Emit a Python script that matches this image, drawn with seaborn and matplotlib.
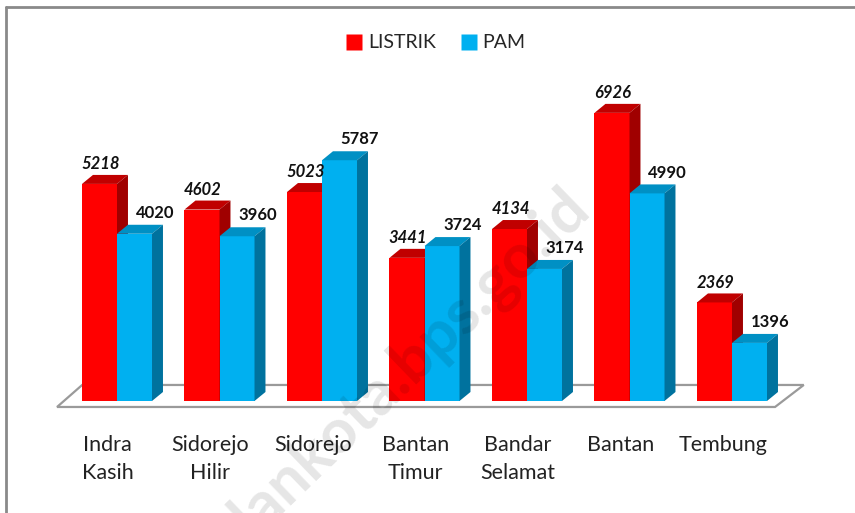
import numpy as np
import pandas as pd
import matplotlib
matplotlib.use("Agg")
import matplotlib.pyplot as plt
import seaborn as sns
from matplotlib.patches import Polygon
from matplotlib.lines import Line2D

# ==========================================
# DATA
# ==========================================
kelurahan = ["Indra\nKasih", "Sidorejo\nHilir", "Sidorejo", "Bantan\nTimur",
             "Bandar\nSelamat", "Bantan", "Tembung"]
listrik = [5218, 4602, 5023, 3441, 4134, 6926, 2369]
pam = [4020, 3960, 5787, 3724, 3174, 4990, 1396]
series = ["LISTRIK", "PAM"]

front_col = {"LISTRIK": "#FF0000", "PAM": "#00B0F0"}
top_col = {"LISTRIK": "#C00000", "PAM": "#0090C4"}
side_col = {"LISTRIK": "#A00000", "PAM": "#00729E"}

df = pd.DataFrame({
    "kelurahan": kelurahan * 2,
    "jenis": ["LISTRIK"] * len(kelurahan) + ["PAM"] * len(kelurahan),
    "jumlah": listrik + pam,
})

# ==========================================
# FIGURE
# ==========================================
sns.set_style("white")
plt.rcParams["font.family"] = ["Lato", "DejaVu Sans"]

fig = plt.figure(figsize=(8.55, 5.13), dpi=100)
ax = fig.add_axes([0, 93 / 513, 1, 420 / 513])

sns.barplot(data=df, x="kelurahan", y="jumlah", hue="jenis",
            order=kelurahan, hue_order=series, palette=front_col,
            width=0.683, saturation=1, errorbar=None, legend=False,
            ax=ax, zorder=2, linewidth=0)

ax.set_xlim(-1.1415, 7.2)
ax.set_ylim(-457, 9639)

# depth of the fake 3d boxes (in data units)
dx, dy = 0.107, 216

# floor
floor = Polygon([(-0.585, -144), (6.42, -144), (6.70, 385), (-0.34, 385)],
                closed=True, facecolor="white", edgecolor="#9A9A9A",
                linewidth=1.6, zorder=1)
ax.add_patch(floor)

n = len(kelurahan)
for k, bar in enumerate(ax.patches[:2 * n]):
    s = series[k // n]
    z = 2 + k // n
    bar.set_zorder(z)
    x0 = bar.get_x()
    x1 = x0 + bar.get_width()
    h = bar.get_height()
    top = Polygon([(x0, h), (x1, h), (x1 + dx, h + dy), (x0 + dx, h + dy)],
                  facecolor=top_col[s], edgecolor="none", zorder=z + 0.1)
    side = Polygon([(x1, 0), (x1 + dx, dy), (x1 + dx, h + dy), (x1, h)],
                   facecolor=side_col[s], edgecolor="none", zorder=z + 0.1)
    ax.add_patch(top)
    ax.add_patch(side)
    if s == "LISTRIK":
        ax.text(x0 + bar.get_width() / 2 + 0.01, h + 470, f"{int(h)}",
                ha="center", va="center", fontsize=12, fontweight="bold",
                fontstyle="italic", color="#111111", zorder=6)
    else:
        ax.text(x0 + bar.get_width() / 2 + 0.2, h + 500, f"{int(h)}",
                ha="center", va="center", fontsize=12, fontweight="bold",
                color="#111111", zorder=6)

ax.set_xticks(np.arange(n) - 0.09)
ax.set_xticklabels(kelurahan, fontsize=15.5, color="#222222", linespacing=1.5)
ax.tick_params(axis="x", length=0, pad=11)
ax.set_yticks([])
ax.set_xlabel("")
ax.set_ylabel("")
sns.despine(ax=ax, left=True, bottom=True)

# legend
handles = [Line2D([], [], marker="s", linestyle="none", markersize=11,
                  markerfacecolor=front_col[s], markeredgecolor="none")
           for s in series]
fig.legend(handles, series, loc="center", bbox_to_anchor=(0.51, 1 - 43 / 513),
           ncol=2, frameon=False, fontsize=14, handletextpad=0.3,
           columnspacing=1.3, handlelength=0.8)

# chart border (top and left only visible)
fig.add_artist(Line2D([6 / 855, 6 / 855], [0, 1 - 7 / 513], color="#8A8A8A",
                      linewidth=2, transform=fig.transFigure))
fig.add_artist(Line2D([6 / 855, 1], [1 - 7 / 513, 1 - 7 / 513], color="#8A8A8A",
                      linewidth=2, transform=fig.transFigure))

# watermark
fig.text(372 / 855, 1 - 398 / 513, "medankota.bps.go.id", fontsize=45,
         fontweight="bold", color="black", alpha=0.1, rotation=44,
         rotation_mode="anchor", ha="center", va="center", zorder=10)

plt.savefig("out.png", dpi=100)
